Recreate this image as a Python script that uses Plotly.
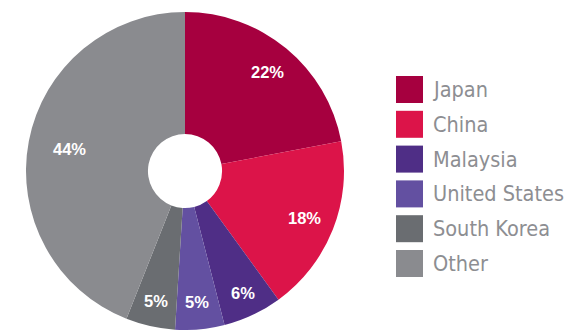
import math
import plotly.graph_objects as go

# Share of total by country
countries = ["Japan", "China", "Malaysia", "United States", "South Korea", "Other"]
shares = [22, 18, 6, 5, 5, 44]

colors = ["#A6003F", "#DC1449", "#4F2E86", "#6350A1", "#6A6D71", "#8A8B8F"]

W, H = 576, 330
TOP = 12
PIE_W = 370            # pie domain width in px (pie centred at PIE_W / 2)
HOLE = 0.233
# radial position of each value label as a fraction of the outer radius
label_r = [0.81, 0.81, 0.85, 0.83, 0.84, 0.74]

fig = go.Figure(
    go.Pie(
        labels=countries,
        values=shares,
        marker=dict(colors=colors, line=dict(width=0)),
        hole=HOLE,
        sort=False,
        direction="clockwise",
        rotation=0,
        textinfo="none",
        hoverinfo="label+percent",
        showlegend=False,
        domain=dict(x=[0, PIE_W / W], y=[0, 1]),
    )
)

# geometry of the pie in pixels
plot_h = H - TOP
radius = min(PIE_W, plot_h) / 2
cx, cy = PIE_W / 2, TOP + plot_h / 2


def to_paper(px, py):
    return px / W, 1 - (py - TOP) / plot_h


annotations = []
total = sum(shares)
cum = 0
for i, v in enumerate(shares):
    mid = 2 * math.pi * (cum + v / 2) / total
    cum += v
    r = radius * label_r[i]
    px = cx + r * math.sin(mid)
    py = cy - r * math.cos(mid)
    xp, yp = to_paper(px, py)
    annotations.append(dict(
        x=xp, y=yp, xref="paper", yref="paper",
        text=f"<b>{v / total * 100:.0f}%</b>",
        showarrow=False, xanchor="center", yanchor="middle",
        font=dict(family="Liberation Sans, Arial, sans-serif", size=16.5, color="#FFFFFF"),
    ))

# legend: colour swatches with country names
shapes = []
SW_X0, SW_SIZE, SW_TOP, SW_STEP = 396, 27, 76, 34.8
for i, (name, col) in enumerate(zip(countries, colors)):
    y0 = SW_TOP + i * SW_STEP
    x0p, y0p = to_paper(SW_X0, y0)
    x1p, y1p = to_paper(SW_X0 + SW_SIZE, y0 + SW_SIZE)
    shapes.append(dict(
        type="rect", xref="paper", yref="paper",
        x0=x0p, x1=x1p, y0=y1p, y1=y0p,
        fillcolor=col, line=dict(width=0), layer="above",
    ))
    tx, ty = to_paper(SW_X0 + SW_SIZE + 8, y0 + SW_SIZE / 2)
    annotations.append(dict(
        x=tx, y=ty, xref="paper", yref="paper",
        text=name, showarrow=False, xanchor="left", yanchor="middle",
        font=dict(family="DejaVu Sans Condensed, sans-serif",
                  size=21.5, color="#8D8E92"),
    ))

fig.update_layout(
    width=W, height=H,
    margin=dict(l=0, r=0, t=TOP, b=0),
    paper_bgcolor="#FFFFFF",
    plot_bgcolor="#FFFFFF",
    annotations=annotations,
    shapes=shapes,
)

fig.write_html("out.html")
